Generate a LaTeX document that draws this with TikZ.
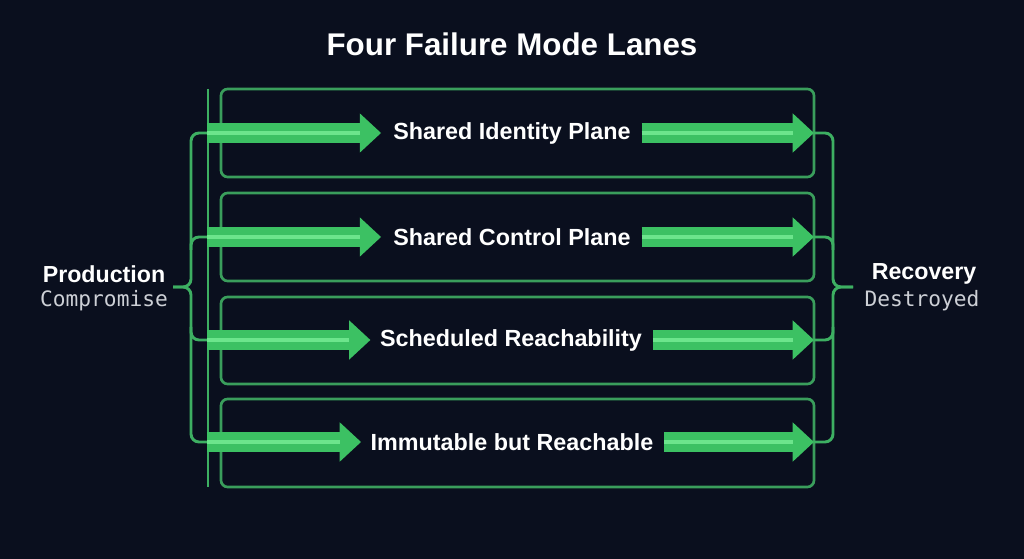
\documentclass[tikz,border=0pt]{standalone}
\usepackage{fontspec}
\setmainfont{Liberation Sans}
\setmonofont{DejaVu Sans Mono}
\usetikzlibrary{arrows.meta}
\definecolor{bgnavy}{HTML}{0A0F1E}
\definecolor{laneedge}{HTML}{3A9E5C}
\definecolor{bracegreen}{HTML}{3DAF62}
\definecolor{flowgreen}{HTML}{3CC163}
\definecolor{flowlight}{HTML}{6CE58C}
\definecolor{monogrey}{HTML}{CDD0D6}

\begin{document}
\begin{tikzpicture}[x=0.75pt,y=-0.75pt]
        \tikzset{lane/.style={draw=laneedge, line width=2pt, rounded corners=5pt},
            lanetext/.style={text=white, font=\bfseries\fontsize{17.5}{20}\selectfont, inner sep=0pt},
            sidehead/.style={text=white, font=\bfseries\fontsize{17.4}{20}\selectfont, inner sep=0pt},
            sidesub/.style={text=monogrey, font=\ttfamily\fontsize{15.9}{19}\selectfont, inner sep=0pt},
            flow/.style={draw=flowgreen, line width=15pt, -{Triangle[length=16pt,width=28.5pt]}},
            flowstripe/.style={draw=flowlight, line width=3.5pt, shorten >=16pt},
            brace/.style={draw=bracegreen, line width=2.2pt, rounded corners=6pt}}
        \fill[bgnavy] (0,0) rectangle (1024,559);
        \useasboundingbox (0,0) rectangle (1024,559);
        \node[text=white, font=\bfseries\fontsize{23.5}{28}\selectfont] (title) at (512,44) {Four Failure Mode Lanes};
        % lanes
        \draw[lane] (221,89) rectangle (814,177);
        \draw[lane] (221,193) rectangle (814,281);
        \draw[lane] (221,297) rectangle (814,384);
        \draw[lane] (221,399) rectangle (814,487);
        \draw[bracegreen, line width=2.2pt] (208,89) -- (208,487);
        \node[lanetext] (t1) at (512,133) {Shared Identity Plane};
        \node[lanetext] (t2) at (512,237) {Shared Control Plane};
        \node[lanetext] (t3) at (511,340) {Scheduled Reachability};
        \node[lanetext] (t4) at (512,442) {Immutable but Reachable};
        \coordinate (in1) at (207,133);
        \coordinate (in2) at (207,237);
        \coordinate (in3) at (207,340);
        \coordinate (in4) at (207,442);
        \coordinate (out1) at (814,133);
        \coordinate (out2) at (814,237);
        \coordinate (out3) at (814,340);
        \coordinate (out4) at (814,442);
        % braces
        \draw[brace] (in1) -| (191,287) -- (173,287);
        \draw[brace] (in4) -| (191,287) -- (173,287);
        \draw[brace] (in2) -| (191,250);
        \draw[brace] (in3) -| (191,327);
        \draw[brace] (out1) -| (833,287) -- (853,287);
        \draw[brace] (out4) -| (833,287) -- (853,287);
        \draw[brace] (out2) -| (833,250);
        \draw[brace] (out3) -| (833,327);
        % arrows
        \draw[flow] (in1) -- ([xshift=-9pt]t1.west);
        \draw[flowstripe] (in1) -- ([xshift=-9pt]t1.west);
        \draw[flow] ([xshift=8pt]t1.east) -- (out1);
        \draw[flowstripe] ([xshift=8pt]t1.east) -- (out1);
        \draw[flow] (in2) -- ([xshift=-9pt]t2.west);
        \draw[flowstripe] (in2) -- ([xshift=-9pt]t2.west);
        \draw[flow] ([xshift=8pt]t2.east) -- (out2);
        \draw[flowstripe] ([xshift=8pt]t2.east) -- (out2);
        \draw[flow] (in3) -- ([xshift=-7pt]t3.west);
        \draw[flowstripe] (in3) -- ([xshift=-7pt]t3.west);
        \draw[flow] ([xshift=8pt]t3.east) -- (out3);
        \draw[flowstripe] ([xshift=8pt]t3.east) -- (out3);
        \draw[flow] (in4) -- ([xshift=-7pt]t4.west);
        \draw[flowstripe] (in4) -- ([xshift=-7pt]t4.west);
        \draw[flow] ([xshift=8pt]t4.east) -- (out4);
        \draw[flowstripe] ([xshift=8pt]t4.east) -- (out4);
        % side labels
        \node[sidehead] (prod) at (104,274) {Production};
        \node[sidesub] (comp) at (104,301) {Compromise};
        \node[sidehead] (reco) at (924,274) {Recovery};
        \node[sidesub] (dest) at (922,301) {Destroyed};
    \end{tikzpicture}
\end{document}
